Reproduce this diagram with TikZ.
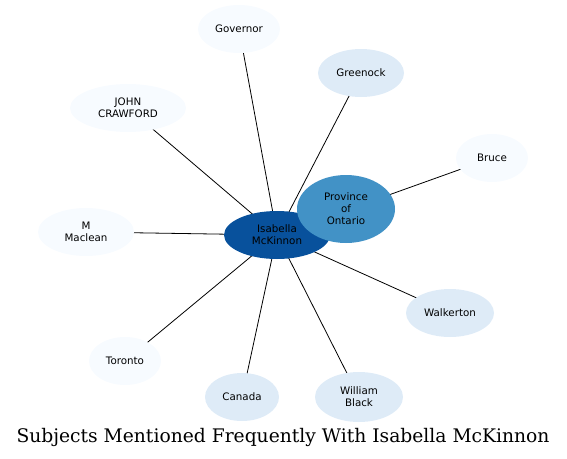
\documentclass[tikz,border=0pt]{standalone}
\usepackage{fontspec}
\setmainfont{DejaVu Serif}
\setsansfont{DejaVu Sans}
\usepackage{xcolor}
\usetikzlibrary{shapes.geometric,backgrounds}

\definecolor{bluedark}{HTML}{08519C}
\definecolor{bluemid}{HTML}{4292C6}
\definecolor{bluelight}{HTML}{DEEBF7}
\definecolor{bluepale}{HTML}{F7FBFF}

\begin{document}
\begin{tikzpicture}[x=1pt,y=-1pt, font=\sffamily\fontsize{10.3}{12}\selectfont,
  subj/.style={ellipse,inner sep=0pt,align=center,draw=none,minimum height=48pt},
  pale/.style={subj,fill=bluepale},
  light/.style={subj,fill=bluelight},
  link/.style={draw=black,line width=0.8pt}]
\useasboundingbox (0,0) rectangle (567,458);
% central person and the strongest subject
\node[subj,fill=bluedark,minimum width=106pt,minimum height=48pt] (isabella) at (277,235) {Isabella\\McKinnon};
\node[subj,fill=bluemid,minimum width=98pt,minimum height=68pt] (ontario) at (346,209) {Province\\of\\Ontario};
% other subjects
\node[pale,minimum width=82pt] (governor) at (239,29) {Governor};
\node[light,minimum width=86pt] (greenock) at (361,73) {Greenock};
\node[pale,minimum width=72pt] (bruce) at (492,158) {Bruce};
\node[pale,minimum width=116pt] (crawford) at (128,108) {JOHN\\CRAWFORD};
\node[pale,minimum width=96pt] (maclean) at (86,232) {M\\Maclean};
\node[light,minimum width=88pt] (walkerton) at (450,313) {Walkerton};
\node[pale,minimum width=72pt] (toronto) at (125,361) {Toronto};
\node[light,minimum width=74pt] (canada) at (242,397) {Canada};
\node[light,minimum width=88pt,minimum height=50pt] (black) at (359,397) {William\\Black};
\begin{pgfonlayer}{background}
\foreach \s in {ontario,governor,greenock,bruce,crawford,maclean,walkerton,toronto,canada,black}
  \draw[link] (isabella.center) -- (\s.center);
\end{pgfonlayer}
\node[font=\rmfamily\fontsize{18.7}{22}\selectfont] (title) at (283,437) {Subjects Mentioned Frequently With Isabella McKinnon};
\end{tikzpicture}
\end{document}
